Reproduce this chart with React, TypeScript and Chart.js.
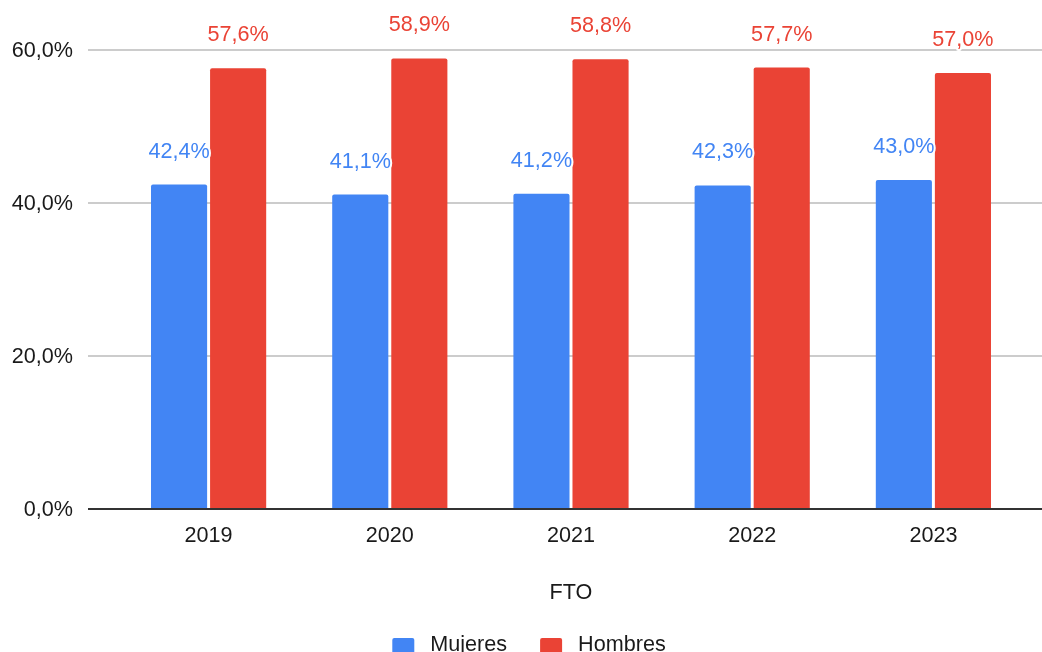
import React, { useEffect, useRef } from 'react';
import { Chart, registerables } from 'chart.js';

Chart.register(...registerables);

// ---- data ----
const categories = ['2019', '2020', '2021', '2022', '2023'];
const mujeres = [42.4, 41.1, 41.2, 42.3, 43.0];
const hombres = [57.6, 58.9, 58.8, 57.7, 57.0];
const seriesNames = ['Mujeres', 'Hombres'];
const yTickValues = [0, 20, 40, 60];
const xAxisTitle = 'FTO';

// ---- style ----
const BLUE = '#4285F4';
const RED = '#EA4335';
const TEXT = '#1a1a1a';
const FONT_FAMILY = 'Arial, "Liberation Sans", sans-serif';
const FONT_SIZE = 21.6;
const W = 1042;
const H = 652;

const fmt = (v: number) => v.toFixed(1).replace('.', ',') + '%';

const gridPlugin = {
  id: 'customGrid',
  beforeDatasetsDraw(chart: any) {
    const { ctx, chartArea } = chart;
    const y = chart.scales.y;
    ctx.save();
    ctx.lineWidth = 2;
    ctx.strokeStyle = '#cccccc';
    y.ticks.forEach((t: any) => {
      if (t.value === 0) return;
      const py = Math.round(y.getPixelForValue(t.value));
      ctx.beginPath();
      ctx.moveTo(chartArea.left - 30, py);
      ctx.lineTo(chart.width, py);
      ctx.stroke();
    });
    ctx.restore();
  },
  afterDatasetsDraw(chart: any) {
    const { ctx, chartArea } = chart;
    const y = chart.scales.y;
    ctx.save();
    ctx.lineWidth = 2;
    ctx.strokeStyle = '#333333';
    const py = Math.round(y.getPixelForValue(0));
    ctx.beginPath();
    ctx.moveTo(chartArea.left - 30, py);
    ctx.lineTo(chart.width, py);
    ctx.stroke();
    ctx.restore();
  },
};

const labelPlugin = {
  id: 'barLabels',
  afterDatasetsDraw(chart: any) {
    const { ctx } = chart;
    ctx.save();
    ctx.font = `${FONT_SIZE}px ${FONT_FAMILY}`;
    ctx.textAlign = 'center';
    ctx.textBaseline = 'alphabetic';
    ctx.lineJoin = 'round';
    chart.data.datasets.forEach((ds: any, i: number) => {
      const meta = chart.getDatasetMeta(i);
      meta.data.forEach((el: any, j: number) => {
        const txt = fmt(ds.data[j]);
        const x = el.x;
        const yy = el.y - 27;
        ctx.lineWidth = 4;
        ctx.strokeStyle = '#ffffff';
        ctx.strokeText(txt, x, yy);
        ctx.fillStyle = ds.backgroundColor;
        ctx.fillText(txt, x, yy);
      });
    });
    ctx.restore();
  },
};

const legendPlugin = {
  id: 'customLegend',
  afterDraw(chart: any) {
    const { ctx } = chart;
    const box = 22;
    const gap = 16;
    const itemGap = 33;
    const centerX = 529;
    const boxTop = 638;
    const baseline = 650.5;
    ctx.save();
    ctx.font = `${FONT_SIZE}px ${FONT_FAMILY}`;
    const items = chart.data.datasets.map((ds: any) => ({
      label: ds.label,
      color: ds.backgroundColor,
      w: ctx.measureText(ds.label).width,
    }));
    const total =
      items.reduce((s: number, it: any) => s + box + gap + it.w, 0) +
      itemGap * (items.length - 1);
    let x = centerX - total / 2;
    items.forEach((it: any) => {
      ctx.fillStyle = it.color;
      ctx.beginPath();
      if (ctx.roundRect) ctx.roundRect(x, boxTop, box, box, 2);
      else ctx.rect(x, boxTop, box, box);
      ctx.fill();
      ctx.fillStyle = TEXT;
      ctx.textAlign = 'left';
      ctx.textBaseline = 'alphabetic';
      ctx.fillText(it.label, x + box + gap, baseline);
      x += box + gap + it.w + itemGap;
    });
    ctx.restore();
  },
};

export default function App() {
  const ref = useRef<HTMLCanvasElement | null>(null);

  useEffect(() => {
    if (!ref.current) return;
    const chart = new Chart(ref.current, {
      type: 'bar',
      data: {
        labels: categories,
        datasets: [
          {
            label: seriesNames[0],
            data: mujeres,
            backgroundColor: BLUE,
            borderRadius: 2,
            categoryPercentage: 0.652,
            barPercentage: 0.95,
          },
          {
            label: seriesNames[1],
            data: hombres,
            backgroundColor: RED,
            borderRadius: 2,
            categoryPercentage: 0.652,
            barPercentage: 0.95,
          },
        ],
      },
      options: {
        responsive: false,
        animation: false,
        devicePixelRatio: 1,
        layout: { padding: { top: 37, right: 18, left: 0, bottom: 0 } },
        plugins: {
          legend: { display: false },
          tooltip: { enabled: false },
        },
        scales: {
          x: {
            grid: { display: false },
            border: { display: false },
            ticks: {
              padding: 6,
              color: TEXT,
              font: { family: FONT_FAMILY, size: FONT_SIZE },
            },
            title: {
              display: true,
              text: xAxisTitle,
              color: TEXT,
              font: { family: FONT_FAMILY, size: FONT_SIZE },
              padding: { top: 0, bottom: 46 },
            },
            afterFit: (s: any) => {
              s.height = 143;
            },
          },
          y: {
            min: 0,
            max: 60,
            grid: { display: false },
            border: { display: false },
            ticks: {
              padding: 37,
              color: TEXT,
              labelOffset: 1,
              font: { family: FONT_FAMILY, size: FONT_SIZE },
              callback: (v: any) => fmt(Number(v)),
            },
            afterBuildTicks: (s: any) => {
              s.ticks = yTickValues.map((v) => ({ value: v }));
            },
            afterFit: (s: any) => {
              s.width = 118;
            },
          },
        },
      },
      plugins: [gridPlugin, labelPlugin, legendPlugin],
    });
    return () => chart.destroy();
  }, []);

  return (
    <div
      style={{
        position: 'fixed',
        left: 0,
        top: 0,
        width: W,
        height: H,
        overflow: 'hidden',
        background: '#ffffff',
      }}
    >
      <canvas ref={ref} width={W} height={H} style={{ width: W, height: H, display: 'block' }} />
    </div>
  );
}
